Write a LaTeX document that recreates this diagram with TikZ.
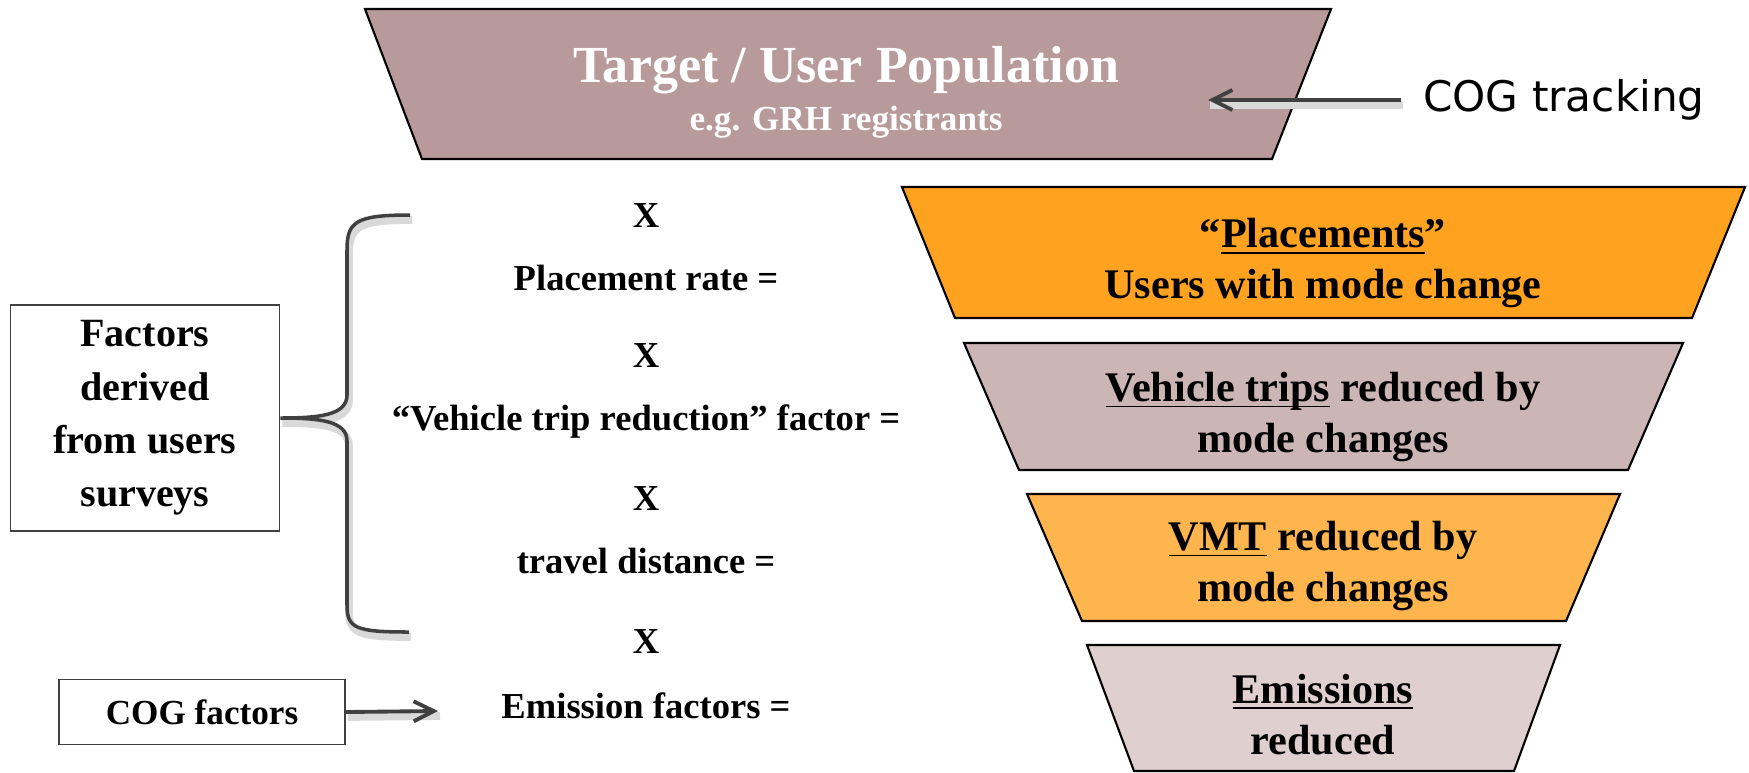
\documentclass[tikz,border=0pt]{standalone}
\usepackage{fontspec}
\setmainfont{Liberation Serif}
\newfontfamily\cogfont{DejaVu Sans}
\usetikzlibrary{arrows.meta}
\definecolor{popfill}{HTML}{B89A9A}
\definecolor{placefill}{HTML}{FFA21F}
\definecolor{tripfill}{HTML}{CBB5B5}
\definecolor{vmtfill}{HTML}{FFB54D}
\definecolor{emisfill}{HTML}{DFCFCF}
\definecolor{arrowgray}{HTML}{404040}
\def\uword#1{\underline{\smash{#1}}}

\begin{document}
\begin{tikzpicture}[x=0.01cm,y=-0.01cm,
		funnel/.style={draw=black,line width=0.6pt},
		funneltext/.style={align=center,font=\bfseries\fontsize{12}{14.5}\selectfont},
		midtext/.style={anchor=base,font=\bfseries\fontsize{10.4}{12}\selectfont},
		factorbox/.style={draw=black!75,line width=0.5pt,align=center},
		grayarrow/.style={draw=arrowgray,line width=1.1pt,-{Straight Barb[length=5.7pt,width=5.7pt]}},
		shadowline/.style={draw=black!15,line width=2.2pt,transform canvas={shift={(2,5)}}}]
	\useasboundingbox (0,0) rectangle (1749,772);
	
	\draw[funnel,fill=popfill] (365,9) -- (1331,9) -- (1272,159) -- (422,159) -- cycle;
	\draw[funnel,fill=placefill] (902,187) -- (1745,187) -- (1692,318) -- (955,318) -- cycle;
	\draw[funnel,fill=tripfill] (964,343) -- (1683,343) -- (1628,470) -- (1019,470) -- cycle;
	\draw[funnel,fill=vmtfill] (1027,494) -- (1620,494) -- (1566,621) -- (1082,621) -- cycle;
	\draw[funnel,fill=emisfill] (1087,645) -- (1560,645) -- (1514,771) -- (1134,771) -- cycle;
	
	\node[anchor=base,text=white,font=\bfseries\fontsize{14.8}{17}\selectfont] (poptitle) at (846,82) {Target / User Population};
	\node[anchor=base,text=white,font=\bfseries\fontsize{10}{12}\selectfont] (popsub) at (846,130) {e.g. GRH registrants};
	\node[funneltext] (place) at (1323,264) {“\uword{Placements}”\\Users with mode change};
	\node[funneltext] (trips) at (1323,417) {\uword{Vehicle trips} reduced by\\mode changes};
	\node[funneltext] (vmt) at (1323,566) {\uword{VMT} reduced by\\mode changes};
	\node[funneltext] (emis) at (1323,729) {\uword{Emissions}\\reduced};
	
	\foreach \n/\y in {1/227,2/367,3/510,4/653}
		\node[midtext] (x\n) at (646,\y) {X};
	\node[midtext] (rate) at (646,290) {Placement rate =};
	\node[midtext] (tripred) at (646,430) {“Vehicle trip reduction” factor =};
	\node[midtext] (dist) at (646,573) {travel distance =};
	\node[midtext] (emfac) at (646,718) {Emission factors =};
	
	\node[factorbox,minimum width=2.69cm,minimum height=2.26cm,
		font=\bfseries\fontsize{11.4}{15.2}\selectfont] (factors) at (145,418) {Factors\\derived\\from users\\surveys};
	\node[factorbox,minimum width=2.86cm,minimum height=0.65cm,
		font=\bfseries\fontsize{10}{12}\selectfont] (cogfac) at (202,712) {COG factors};
	\node[font=\cogfont\fontsize{12}{14}\selectfont,inner sep=6pt] (cogtrack) at (1564,100) {COG tracking};
	
	\coordinate (bracetop) at (410,215);
	\coordinate (bracebot) at (409,632);
	\coordinate (poptip) at (1208,100);
	\coordinate (emtip) at (438,711);
	
	\draw[shadowline] (bracetop) .. controls (355,215) and (347,222) .. (347,250) -- (347,395)
		.. controls (347,415) and (320,418) .. (factors.east)
		.. controls (320,418) and (347,421) .. (347,441) -- (347,605)
		.. controls (347,628) and (355,632) .. (bracebot);
	\draw[arrowgray,line width=1pt] (bracetop) .. controls (355,215) and (347,222) .. (347,250) -- (347,395)
		.. controls (347,415) and (320,418) .. (factors.east)
		.. controls (320,418) and (347,421) .. (347,441) -- (347,605)
		.. controls (347,628) and (355,632) .. (bracebot);
	
	\draw[shadowline] (cogtrack.west) -- (poptip);
	\draw[grayarrow] (cogtrack.west) -- (poptip);
	\draw[shadowline] (cogfac.east) -- (emtip);
	\draw[grayarrow] (cogfac.east) -- (emtip);
\end{tikzpicture}
\end{document}
